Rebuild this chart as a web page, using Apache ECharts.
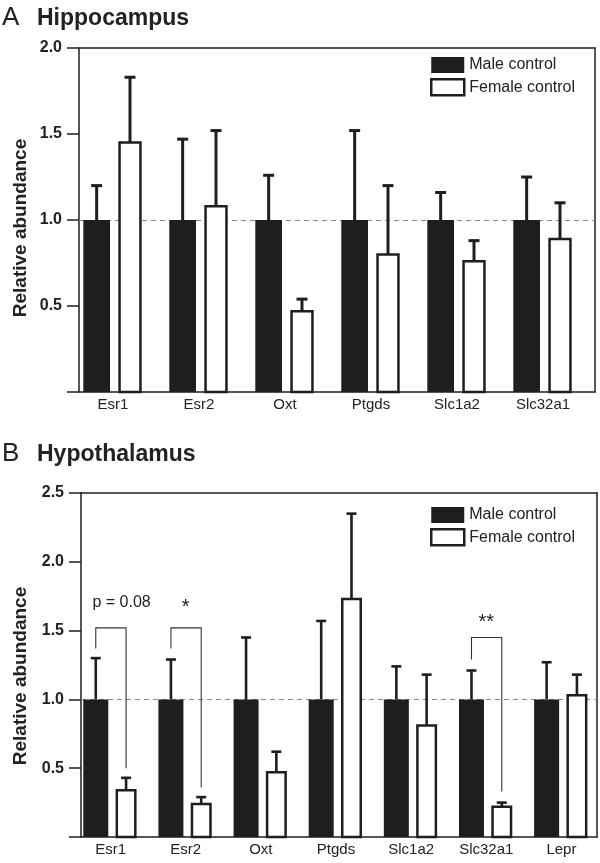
<!DOCTYPE html>
<html>
<head>
<meta charset="utf-8">
<script src="https://cdn.jsdelivr.net/npm/echarts/dist/echarts.min.js"></script>
<style>
html,body{margin:0;padding:0;background:#fff;}
#chart{width:600px;height:863px;}
</style>
</head>
<body>
<div id="chart"></div>
<script>
// ---------- Data ----------
const categoriesA = ['Esr1', 'Esr2', 'Oxt', 'Ptgds', 'Slc1a2', 'Slc32a1'];
const maleA       = [1.00, 1.00, 1.00, 1.00, 1.00, 1.00];
const maleErrTopA = [1.20, 1.47, 1.26, 1.52, 1.16, 1.25];
const femaleA     = [1.45, 1.08, 0.47, 0.80, 0.76, 0.89];
const femaleErrTopA = [1.83, 1.52, 0.54, 1.20, 0.88, 1.10];
const yTicksA = [0, 0.5, 1.0, 1.5, 2.0];

const categoriesB = ['Esr1', 'Esr2', 'Oxt', 'Ptgds', 'Slc1a2', 'Slc32a1', 'Lepr'];
const maleB       = [1.00, 1.00, 1.00, 1.00, 1.00, 1.00, 1.00];
const maleErrTopB = [1.30, 1.29, 1.45, 1.57, 1.24, 1.21, 1.27];
const femaleB     = [0.34, 0.24, 0.47, 1.73, 0.81, 0.22, 1.03];
const femaleErrTopB = [0.43, 0.29, 0.62, 2.35, 1.18, 0.25, 1.18];
const yTicksB = [0, 0.5, 1.0, 1.5, 2.0, 2.5];

// significance brackets (panel B)
const bracketCat      = [0, 1, 5];
const bracketTop      = [1.52, 1.52, 1.45];
const bracketLeftEnd  = [1.37, 1.37, 1.29];
const bracketRightEnd = [0.50, 0.36, 0.33];
const annotText = ['p = 0.08', '*', '**'];
const annotCat  = [0, 1, 5];
const annotY    = [1.70, 1.668, 1.559];

const referenceLine = 1.0;
const seriesNames = ['Male control', 'Female control'];

// ---------- Style ----------
const INK = '#1e1e1e';
const FONT = '"Liberation Sans", Arial, Helvetica, sans-serif';

const panels = [
  { frame: {left: 79, right: 5, top: 48, height: 344}, data: {left: 70, width: 516, top: 48, height: 344},
    max: 2.0, cats: categoriesA, ticks: yTicksA,
    male: [-29.7, -3], female: [5.3, 28.7], cap: 11, lw: 3 },
  { frame: {left: 81, right: 3, top: 493, height: 344}, data: {left: 73, width: 526, top: 493, height: 344},
    max: 2.5, cats: categoriesB, ticks: yTicksB,
    male: [-27.3, -2.3], female: [5, 26], cap: 10, lw: 2.6 }
];

function fmtTick(v) {
  if (v === 0) return '';
  return v.toFixed(1);
}

function barRenderer(p, kind) {
  return function (params, api) {
    const i = api.value(0), v = api.value(1), e = api.value(2);
    const top = api.coord([i, v]);
    const base = api.coord([i, 0]);
    const et = api.coord([i, e]);
    const off = kind === 'male' ? p.male : p.female;
    const x0 = top[0] + off[0], x1 = top[0] + off[1];
    const cx = (x0 + x1) / 2;
    const children = [];
    children.push({ type: 'line', shape: {x1: cx, y1: top[1], x2: cx, y2: et[1]},
      style: {stroke: INK, lineWidth: p.lw}});
    children.push({ type: 'line', shape: {x1: cx - p.cap / 2, y1: et[1], x2: cx + p.cap / 2, y2: et[1]},
      style: {stroke: INK, lineWidth: p.lw}});
    if (kind === 'male') {
      children.push({ type: 'rect', shape: {x: x0, y: top[1], width: x1 - x0, height: base[1] - top[1]},
        style: {fill: INK}});
    } else {
      const bw = 2.5;
      children.push({ type: 'rect', shape: {x: x0 + bw / 2, y: top[1], width: x1 - x0 - bw, height: base[1] - top[1]},
        style: {fill: '#fff', stroke: INK, lineWidth: bw}});
    }
    return {type: 'group', children: children};
  };
}

function bracketRenderer(p) {
  return function (params, api) {
    const i = api.value(0);
    const t = api.coord([i, api.value(1)]);
    const l = api.coord([i, api.value(2)]);
    const r = api.coord([i, api.value(3)]);
    const xl = t[0] + (p.male[0] + p.male[1]) / 2;
    const xr = t[0] + (p.female[0] + p.female[1]) / 2;
    return { type: 'polyline',
      shape: {points: [[xl, l[1]], [xl, t[1]], [xr, t[1]], [xr, r[1]]]},
      style: {stroke: '#333', lineWidth: 1.1, fill: null}};
  };
}

function annotRenderer(p) {
  return function (params, api) {
    const i = api.value(0);
    const c = api.coord([i, api.value(1)]);
    const txt = annotText[params.dataIndex];
    const star = txt.indexOf('*') >= 0;
    return { type: 'text', x: c[0] + (star ? 0 : 11), y: c[1],
      style: {text: txt, fill: '#222', fontFamily: FONT, fontSize: star ? 20 : 16,
        align: 'center', verticalAlign: 'middle'}};
  };
}

const grid = [], xAxis = [], yAxis = [], series = [];
panels.forEach(function (p, k) {
  const fg = grid.length; grid.push(p.frame);
  const dg = grid.length; grid.push(p.data);
  const fxBottom = xAxis.length;
  xAxis.push({gridIndex: fg, type: 'value', min: 0, max: 1, position: 'bottom',
    axisLine: {show: true, onZero: false, lineStyle: {color: INK, width: 1.5}},
    axisTick: {show: false}, axisLabel: {show: false}, splitLine: {show: false}});
  xAxis.push({gridIndex: fg, type: 'value', min: 0, max: 1, position: 'top',
    axisLine: {show: true, onZero: false, lineStyle: {color: INK, width: 1.5}},
    axisTick: {show: false}, axisLabel: {show: false}, splitLine: {show: false}});
  const fyLeft = yAxis.length;
  yAxis.push({gridIndex: fg, type: 'value', min: p.ticks[0], max: p.max, interval: 0.5, position: 'left',
    axisLine: {show: true, onZero: false, lineStyle: {color: INK, width: 1.5}},
    axisTick: {show: true, inside: false, length: 12, lineStyle: {color: INK, width: 1.5}},
    axisLabel: {formatter: fmtTick, fontFamily: FONT, fontWeight: 'bold', fontSize: 16, color: '#222', margin: 17},
    splitLine: {show: false}});
  yAxis.push({gridIndex: fg, type: 'value', min: p.ticks[0], max: p.max, position: 'right',
    axisLine: {show: true, onZero: false, lineStyle: {color: INK, width: 1.5}},
    axisTick: {show: false}, axisLabel: {show: false}, splitLine: {show: false}});
  const dx = xAxis.length;
  xAxis.push({gridIndex: dg, type: 'category', data: p.cats,
    axisLine: {show: false}, axisTick: {show: false},
    axisLabel: {fontFamily: FONT, fontSize: 15, color: '#222', margin: 5}});
  const dy = yAxis.length;
  yAxis.push({gridIndex: dg, type: 'value', min: 0, max: p.max, show: false});

  series.push({type: 'line', xAxisIndex: fxBottom, yAxisIndex: fyLeft, data: [], z: 1,
    silent: true, symbol: 'none',
    markLine: {silent: true, symbol: 'none', label: {show: false},
      lineStyle: {type: [5, 4], color: '#8a8a8a', width: 1},
      data: [{yAxis: referenceLine}]}});

  const male = k === 0 ? maleA : maleB;
  const maleE = k === 0 ? maleErrTopA : maleErrTopB;
  const fem = k === 0 ? femaleA : femaleB;
  const femE = k === 0 ? femaleErrTopA : femaleErrTopB;
  series.push({type: 'custom', name: seriesNames[0], xAxisIndex: dx, yAxisIndex: dy, z: 5,
    itemStyle: {color: INK},
    renderItem: barRenderer(p, 'male'),
    data: male.map(function (v, i) { return [i, v, maleE[i]]; })});
  series.push({type: 'custom', name: seriesNames[1], xAxisIndex: dx, yAxisIndex: dy, z: 5,
    itemStyle: {color: '#fff', borderColor: INK, borderWidth: 2.5},
    renderItem: barRenderer(p, 'female'),
    data: fem.map(function (v, i) { return [i, v, femE[i]]; })});

  if (k === 1) {
    series.push({type: 'custom', xAxisIndex: dx, yAxisIndex: dy, z: 6, silent: true,
      renderItem: bracketRenderer(p),
      data: bracketCat.map(function (c, i) { return [c, bracketTop[i], bracketLeftEnd[i], bracketRightEnd[i]]; })});
    series.push({type: 'custom', xAxisIndex: dx, yAxisIndex: dy, z: 6, silent: true,
      renderItem: annotRenderer(p),
      data: annotCat.map(function (c, i) { return [c, annotY[i]]; })});
  }
});

const legendCommon = {
  orient: 'vertical', itemWidth: 33, itemHeight: 16, itemGap: 5, icon: 'rect', selectedMode: false,
  padding: 0,
  textStyle: {fontFamily: FONT, fontSize: 16, color: '#222', lineHeight: 16},
  data: [
    {name: seriesNames[0], itemStyle: {color: INK, borderWidth: 0}},
    {name: seriesNames[1], itemStyle: {color: '#fff', borderColor: INK, borderWidth: 2.5}}
  ]
};

const option = {
  animation: false,
  backgroundColor: '#fff',
  grid: grid, xAxis: xAxis, yAxis: yAxis, series: series,
  legend: [
    Object.assign({left: 430, top: 57}, legendCommon),
    Object.assign({left: 430, top: 507}, legendCommon)
  ],
  graphic: [
    {type: 'text', x: 2, y: 18, style: {text: 'A', fontFamily: FONT, fontSize: 26, fill: '#222', verticalAlign: 'middle'}},
    {type: 'text', x: 37, y: 18.5, style: {text: 'Hippocampus', fontFamily: FONT, fontWeight: 'bold', fontSize: 23, fill: '#222', verticalAlign: 'middle'}},
    {type: 'text', x: 2, y: 454, style: {text: 'B', fontFamily: FONT, fontSize: 26, fill: '#222', verticalAlign: 'middle'}},
    {type: 'text', x: 37, y: 455, style: {text: 'Hypothalamus', fontFamily: FONT, fontWeight: 'bold', fontSize: 23, fill: '#222', verticalAlign: 'middle'}},
    {type: 'text', x: 21, y: 228, rotation: Math.PI / 2, style: {text: 'Relative abundance', fontFamily: FONT, fontWeight: 'bold', fontSize: 19, fill: '#222', align: 'center', verticalAlign: 'middle'}},
    {type: 'text', x: 21, y: 676, rotation: Math.PI / 2, style: {text: 'Relative abundance', fontFamily: FONT, fontWeight: 'bold', fontSize: 19, fill: '#222', align: 'center', verticalAlign: 'middle'}}
  ]
};

const chart = echarts.init(document.getElementById('chart'), null, {renderer: 'canvas'});
chart.setOption(option);
</script>
</body>
</html>
